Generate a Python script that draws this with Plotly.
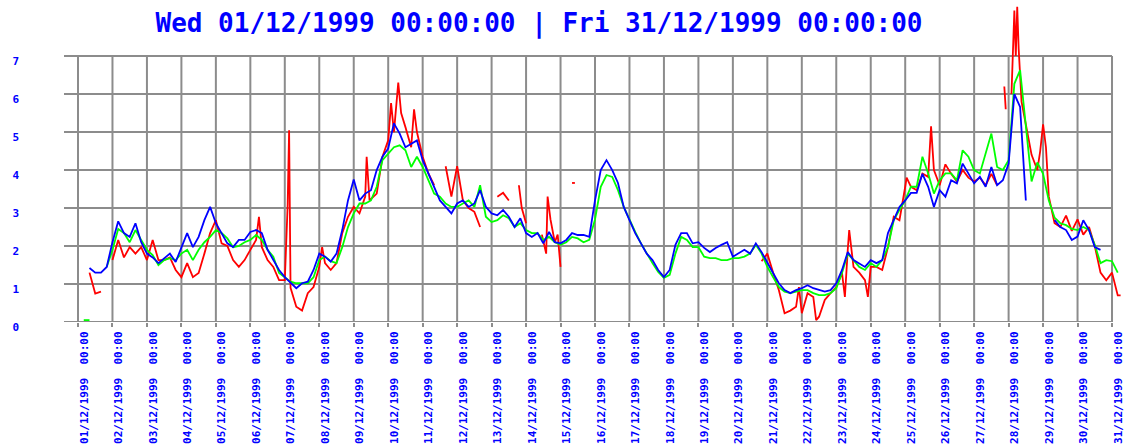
import pandas as pd
import plotly.graph_objects as go

TITLE = "Wed 01/12/1999 00:00:00 | Fri 31/12/1999 00:00:00"
START = pd.Timestamp("1999-12-01 00:00")
N_DAYS = 30

# Readings every 4 hours from 01/12 00:00 (hour offsets 0, 4, ..., 724)
STEP_HOURS = list(range(0, 725, 4))

BLUE = [
    None, None, 1.42, 1.3, 1.3, 1.45,      # 01/12
    2.1, 2.65, 2.34, 2.24, 2.6, 2.1,       # 02/12
    1.8, 1.7, 1.55, 1.68, 1.8, 1.58,       # 03/12
    1.97, 2.34, 1.97, 2.24, 2.68, 3.03,    # 04/12
    2.6, 2.34, 2.07, 1.97, 2.16, 2.16,     # 05/12
    2.37, 2.42, 2.34, 1.9, 1.63, 1.37,     # 06/12
    1.18, 1.03, 0.89, 1.02, 1.06, 1.37,    # 07/12
    1.8, 1.72, 1.59, 1.8, 2.42, 3.2,       # 08/12
    3.75, 3.2, 3.38, 3.47, 4.0, 4.35,      # 09/12
    4.57, 5.23, 4.96, 4.6, 4.7, 4.78,      # 10/12
    4.26, 3.91, 3.56, 3.2, 3.03, 2.86,     # 11/12
    3.12, 3.2, 3.03, 3.12, 3.47, 3.03,     # 12/12
    2.86, 2.81, 2.95, 2.77, 2.5, 2.73,     # 13/12
    2.34, 2.24, 2.34, 2.07, 2.37, 2.1,     # 14/12
    2.07, 2.16, 2.34, 2.29, 2.29, 2.24,    # 15/12
    3.2, 4.0, 4.26, 4.0, 3.66, 3.03,       # 16/12
    2.68, 2.34, 2.07, 1.8, 1.63, 1.37,     # 17/12
    1.18, 1.37, 2.03, 2.34, 2.34, 2.07,    # 18/12
    2.1, 1.95, 1.84, 1.95, 2.03, 2.1,      # 19/12
    1.72, 1.8, 1.9, 1.8, 2.07, 1.84,       # 20/12
    1.55, 1.29, 1.02, 0.84, 0.76, 0.84,    # 21/12
    0.89, 0.97, 0.89, 0.84, 0.8, 0.84,     # 22/12
    1.02, 1.37, 1.84, 1.63, 1.55, 1.45,    # 23/12
    1.63, 1.55, 1.63, 2.34, 2.68, 3.03,    # 24/12
    3.2, 3.4, 3.4, 3.9, 3.56, 3.03,        # 25/12
    3.47, 3.3, 3.73, 3.65, 4.17, 3.91,     # 26/12
    3.65, 3.82, 3.56, 4.08, 3.6, 3.73,     # 27/12
    4.17, 6.0, 5.66, 3.2, None, None,      # 28/12
    None, None, 2.68, 2.5, 2.42, 2.16,     # 29/12
    2.25, 2.68, 2.42, 1.97, 1.9, None,     # 30/12
    None, None,                            # 31/12
]

GREEN = [
    None, 0.05, 0.05, None, None, 1.45,    # 01/12
    1.9, 2.45, 2.34, 2.1, 2.42, 2.16,      # 02/12
    1.9, 1.76, 1.5, 1.63, 1.68, 1.63,      # 03/12
    1.8, 1.9, 1.63, 1.9, 2.1, 2.24,        # 04/12
    2.42, 2.34, 2.2, 1.97, 2.0, 2.1,       # 05/12
    2.16, 2.29, 2.16, 1.9, 1.72, 1.29,     # 06/12
    1.18, 1.06, 1.02, 1.02, 1.02, 1.18,    # 07/12
    1.63, 1.72, 1.6, 1.55, 1.97, 2.5,      # 08/12
    2.86, 3.12, 3.12, 3.2, 3.56, 4.26,     # 09/12
    4.43, 4.6, 4.65, 4.52, 4.08, 4.35,     # 10/12
    4.08, 3.73, 3.38, 3.3, 3.12, 3.03,     # 11/12
    3.03, 3.12, 3.2, 3.03, 3.6, 2.77,      # 12/12
    2.63, 2.68, 2.81, 2.73, 2.5, 2.6,      # 13/12
    2.42, 2.34, 2.34, 2.16, 2.24, 2.1,     # 14/12
    2.03, 2.1, 2.24, 2.2, 2.1, 2.16,       # 15/12
    2.7, 3.56, 3.87, 3.82, 3.47, 3.03,     # 16/12
    2.68, 2.37, 2.07, 1.8, 1.55, 1.32,     # 17/12
    1.16, 1.24, 1.8, 2.24, 2.16, 1.97,     # 18/12
    1.97, 1.72, 1.68, 1.68, 1.63, 1.63,    # 19/12
    1.68, 1.68, 1.72, 1.8, 2.03, 1.8,      # 20/12
    1.45, 1.18, 0.92, 0.8, 0.76, 0.8,      # 21/12
    0.84, 0.84, 0.76, 0.71, 0.71, 0.76,    # 22/12
    0.89, 1.29, 1.8, 1.63, 1.45, 1.37,     # 23/12
    1.55, 1.45, 1.63, 1.97, 2.68, 2.95,    # 24/12
    3.2, 3.56, 3.56, 4.35, 3.91, 3.38,     # 25/12
    3.73, 3.91, 3.91, 3.73, 4.52, 4.35,    # 26/12
    4.0, 3.91, 4.43, 4.96, 4.08, 4.0,      # 27/12
    4.26, 6.27, 6.63, 5.2, 3.7, 4.2,       # 28/12
    3.9, 3.2, 2.75, 2.6, 2.55, 2.45,       # 29/12
    2.42, 2.5, 2.42, 2.03, 1.55, 1.63,     # 30/12
    1.6, 1.3,                              # 31/12
]

# Red readings are irregular: (hour offset from 01/12 00:00, value); None breaks the line
RED = [
    (8, 1.3), (12, 0.75), (16, 0.8), (19, None),
    (24, 1.63), (28, 2.16), (32, 1.7), (36, 1.97), (40, 1.8), (44, 1.97),
    (48, 1.63), (52, 2.16), (56, 1.63), (60, 1.63), (64, 1.7), (68, 1.37),
    (72, 1.18), (76, 1.55), (80, 1.18), (84, 1.29), (88, 1.8), (92, 2.34),
    (96, 2.68), (100, 2.07), (104, 2.0), (108, 1.63), (112, 1.45), (116, 1.63),
    (120, 1.9), (124, 2.16), (126, 2.77), (128, 1.97), (132, 1.63), (136, 1.45),
    (140, 1.1), (144, 1.1), (146, 3.1), (147, 5.05), (148, 0.9), (152, 0.4),
    (156, 0.3), (160, 0.76), (164, 0.92), (168, 1.45), (170, 1.97), (172, 1.55),
    (176, 1.37), (180, 1.55), (184, 2.34), (188, 2.77), (192, 3.03), (196, 2.86),
    (200, 3.3), (201, 4.35), (203, 3.2), (208, 3.38), (212, 4.35), (216, 4.78),
    (218, 5.76), (220, 5.0), (223, 6.3), (225, 5.5), (228, 5.13), (232, 4.6),
    (234, 5.6), (236, 5.0), (240, 4.35), (244, 3.91), (248, 3.6), (252, None),
    (256, 4.1), (260, 3.3), (264, 4.1), (268, 3.2), (272, 3.0), (276, 2.9),
    (280, 2.5), (284, None),
    (292, 3.3), (296, 3.4), (300, 3.2), (303, None),
    (307, 3.6), (309, 3.0), (312, 2.6), (314, None),
    (323, 2.3), (326, 1.8), (327, 3.3), (329, 2.7), (332, 2.1), (334, 2.3),
    (336, 1.45), (338, None),
    (344, 3.66), (346, 3.66), (347, None),
    (476, 1.6), (480, 1.8), (484, 1.3), (488, 0.84), (492, 0.23), (496, 0.3),
    (500, 0.4), (502, 0.92), (504, 0.23), (508, 0.76), (512, 0.66), (514, 0.05),
    (516, 0.14), (520, 0.58), (524, 0.76), (528, 0.92), (532, 1.29), (534, 0.66),
    (536, 1.9), (537, 2.42), (540, 1.45), (544, 1.3), (548, 1.1), (550, 0.66),
    (552, 1.45), (556, 1.45), (560, 1.37), (564, 1.97), (568, 2.77), (572, 2.68),
    (576, 3.56), (577, 3.8), (580, 3.56), (584, 3.47), (588, 3.91), (592, 3.82),
    (594, 5.15), (596, 4.0), (600, 3.6), (604, 4.15), (608, 3.9), (612, 3.7),
    (616, 4.0), (620, 3.8), (624, 3.7), (628, 3.8), (632, 3.6), (636, 3.9),
    (640, 3.6), (643, None),
    (645, 6.2), (646, 5.6), (647, None),
    (650, 6.0), (652, 8.2), (653, 7.0), (654, 8.3), (655, 7.2), (656, 6.4),
    (657, 5.8), (660, 5.2), (664, 4.4), (668, 4.0), (670, 4.5), (672, 5.2),
    (674, 4.6), (676, 3.3), (680, 2.6), (684, 2.5), (688, 2.8), (692, 2.4),
    (696, 2.7), (700, 2.3), (704, 2.5), (708, 2.0), (712, 1.3), (716, 1.1),
    (720, 1.3), (724, 0.7), (726, 0.7),
]

Y_TICKS = list(range(0, 8))
DAY_TICKS = [START + pd.Timedelta(days=d) for d in range(N_DAYS + 1)]
DAY_LABELS = [d.strftime("%d/%m/%Y") + "\u00a0\u00a0" + d.strftime("%H:%M") for d in DAY_TICKS]

GRID = "#8c8c8c"
TEXT_BLUE = "#0000ff"


def to_time(hours):
    return [START + pd.Timedelta(hours=h) for h in hours]


fig = go.Figure()
series = [
    ("red", "#ff0000", to_time([h for h, _ in RED]), [v for _, v in RED]),
    ("green", "#00ff00", to_time(STEP_HOURS), GREEN),
    ("blue", "#0000ff", to_time(STEP_HOURS), BLUE),
]
for name, color, xs, ys in series:
    fig.add_trace(go.Scatter(
        x=xs, y=ys, name=name, mode="lines",
        line=dict(color=color, width=1.8, shape="linear"),
        connectgaps=False, hoverinfo="skip",
    ))

x_start = START - pd.Timedelta(hours=9.75)
x_end = START + pd.Timedelta(days=30.435)
x_last = DAY_TICKS[-1]

shapes = []
for d in DAY_TICKS:
    shapes.append(dict(type="line", xref="x", yref="y", x0=d, x1=d, y0=0, y1=7,
                       line=dict(color=GRID, width=2), layer="below"))
for v in Y_TICKS:
    shapes.append(dict(type="line", xref="x", yref="y", x0=x_start, x1=x_last, y0=v, y1=v,
                       line=dict(color=GRID, width=2), layer="below"))

fig.update_layout(
    width=1127, height=448,
    margin=dict(l=64, r=0, t=1, b=126),
    paper_bgcolor="white", plot_bgcolor="white",
    showlegend=False,
    shapes=shapes,
    title=dict(
        text=TITLE, x=539 / 1127, xanchor="center", xref="container",
        y=1 - 22.5 / 448, yanchor="middle", yref="container",
        font=dict(family="DejaVu Sans Mono", size=26, color=TEXT_BLUE, weight="bold"),
    ),
    xaxis=dict(
        type="date", range=[x_start, x_end],
        tickvals=DAY_TICKS, ticktext=DAY_LABELS, tickangle=-90,
        ticks="outside", ticklen=4, tickwidth=2, tickcolor=GRID,
        showgrid=False, zeroline=False, showline=False,
        ticklabelshift=6,
        tickfont=dict(family="DejaVu Sans Mono", size=11, color=TEXT_BLUE, weight="bold"),
    ),
    yaxis=dict(
        range=[0, 8.45], tickvals=Y_TICKS, ticktext=[str(v) for v in Y_TICKS],
        showgrid=False, zeroline=False, showline=False, ticks="",
        ticklabelstandoff=44, ticklabelshift=5,
        tickfont=dict(family="DejaVu Sans Mono", size=11, color=TEXT_BLUE, weight="bold"),
    ),
)

fig.write_html("out.html", config={"displayModeBar": False})
